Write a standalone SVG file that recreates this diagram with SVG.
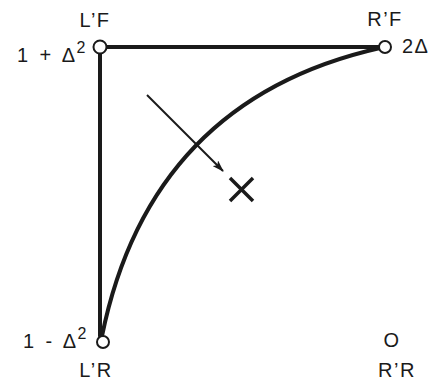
<svg xmlns="http://www.w3.org/2000/svg" width="435" height="382" viewBox="0 0 435 382">
<defs>
<style>
text{font-family:"Liberation Sans",Arial,sans-serif;font-size:20px;letter-spacing:1.5px;fill:#1a1a1a}
.sup{font-size:16px}
.sp{word-spacing:3px}
.thick{stroke:#1a1a1a;stroke-width:4;fill:none;stroke-linecap:round}
.pt{fill:#fff;stroke:#1a1a1a;stroke-width:2}
</style>
<marker id="ah" viewBox="0 0 12 8" refX="11" refY="4" markerWidth="12" markerHeight="8" markerUnits="userSpaceOnUse" orient="auto">
<path d="M0,0 L12,4 L0,8 L3,4 Z" fill="#1a1a1a"/>
</marker>
</defs>
<rect width="435" height="382" fill="#fff"/>
<g id="connectors">
<line class="thick" x1="106" y1="47" x2="379" y2="47"/>
<line class="thick" x1="100" y1="53" x2="100" y2="336"/>
<path class="thick" d="M102,336 Q150,100 380,48"/>
<line x1="147" y1="95" x2="223" y2="171" stroke="#1a1a1a" stroke-width="2" marker-end="url(#ah)"/>
</g>
<g id="LF">
<circle class="pt" cx="100" cy="47" r="6.5"/>
<text x="95" y="27" text-anchor="middle" letter-spacing="3">L’F</text>
<text class="sp" x="87" y="62" text-anchor="end">1 + Δ<tspan class="sup" dy="-9">2</tspan></text>
</g>
<g id="RF">
<circle class="pt" cx="385" cy="47" r="6"/>
<text x="385" y="26" text-anchor="middle" letter-spacing="3">R’F</text>
<text x="402" y="53">2Δ</text>
</g>
<g id="LR">
<circle class="pt" cx="103" cy="342" r="6"/>
<text class="sp" x="88" y="348" text-anchor="end">1 - Δ<tspan class="sup" dy="-9">2</tspan></text>
<text x="96" y="377" text-anchor="middle" letter-spacing="3">L’R</text>
</g>
<g id="RR">
<text x="392" y="347" text-anchor="middle">O</text>
<text x="397" y="377" text-anchor="middle" letter-spacing="3">R’R</text>
</g>
<g id="X">
<path d="M230,178 L253,201 M253,178 L230,201" stroke="#1a1a1a" stroke-width="3.5" fill="none"/>
</g>
</svg>
